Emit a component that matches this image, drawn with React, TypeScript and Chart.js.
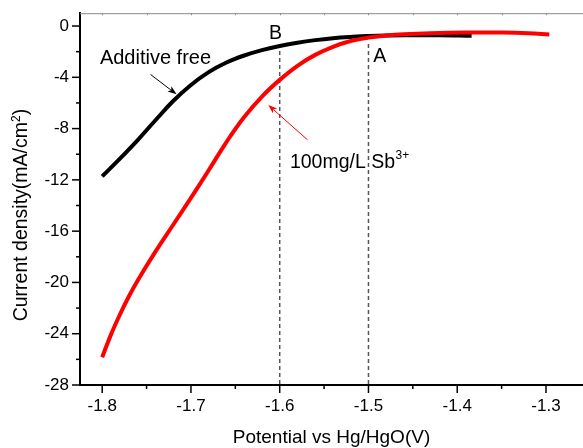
import React, { useEffect, useRef } from 'react';
import { Chart, registerables } from 'chart.js';

Chart.register(...registerables);

// ---- Data ----
const freePotential = [-1.8, -1.78, -1.76, -1.74, -1.72, -1.7, -1.68, -1.66, -1.64, -1.62, -1.6, -1.58, -1.56, -1.54, -1.52, -1.5, -1.46, -1.42, -1.3838];
const freeCurrent = [-11.73, -10.35, -8.9, -7.35, -5.85, -4.6, -3.6, -2.85, -2.3, -1.88, -1.56, -1.3, -1.1, -0.95, -0.85, -0.78, -0.72, -0.72, -0.76];

const sbPotential = [-1.8, -1.79, -1.78, -1.77, -1.76, -1.74, -1.72, -1.7, -1.68, -1.66, -1.64, -1.62, -1.6, -1.58, -1.56, -1.54, -1.52, -1.5, -1.48, -1.46, -1.43, -1.39, -1.35, -1.32, -1.2963];
const sbCurrent = [-25.83, -24.05, -22.5, -21.1, -19.85, -17.6, -15.5, -13.4, -11.25, -9.05, -7.1, -5.5, -4.2, -3.1, -2.25, -1.62, -1.17, -0.9, -0.74, -0.64, -0.56, -0.51, -0.51, -0.56, -0.66];

const xTicks = [-1.8, -1.7, -1.6, -1.5, -1.4, -1.3];
const xTickLabels = ['-1.8', '-1.7', '-1.6', '-1.5', '-1.4', '-1.3'];
const xMinorTicks = [-1.75, -1.65, -1.55, -1.45, -1.35];
const yTicks = [-28, -24, -20, -16, -12, -8, -4, 0];
const yTickLabels = ['-28', '-24', '-20', '-16', '-12', '-8', '-4', '0'];
const yMinorTicks = [-26, -22, -18, -14, -10, -6, -2];

const xMin = -1.825;
const xMax = -1.2583;
const yMin = -28;
const yMax = 1;

// reference (dashed) lines at B and A
const markerPotentials = [-1.6, -1.5];
const markerLabels = ['B', 'A'];
const markerTopCurrent = -1.4;

// annotation anchors in data units
const freeLabel = { text: 'Additive free', x: -1.8026, y: -3.0 };
const freeArrow = { x1: -1.7455, y1: -3.78, x2: -1.7162, y2: -5.33 };
const sbLabel = { text: '100mg/L Sb', sup: '3+', x: -1.5885, y: -11.11 };
const sbArrow = { x1: -1.5686, y1: -8.88, x2: -1.6129, y2: -6.16 };
const markerLabelPos = [
  { x: -1.6048, y: -1.0, align: 'center' as CanvasTextAlign },
  { x: -1.4946, y: -2.82, align: 'left' as CanvasTextAlign },
];

const FONT = '"Liberation Sans", Arial, sans-serif';

function zip(xs: number[], ys: number[]) {
  return xs.map((x, i) => ({ x, y: ys[i] }));
}

function arrow(ctx: CanvasRenderingContext2D, x1: number, y1: number, x2: number, y2: number, color: string) {
  const ang = Math.atan2(y2 - y1, x2 - x1);
  const len = 9;
  const hw = 3.2;
  ctx.save();
  ctx.strokeStyle = color;
  ctx.fillStyle = color;
  ctx.lineWidth = 1;
  ctx.beginPath();
  ctx.moveTo(x1, y1);
  ctx.lineTo(x2 - Math.cos(ang) * len * 0.8, y2 - Math.sin(ang) * len * 0.8);
  ctx.stroke();
  ctx.beginPath();
  ctx.moveTo(x2, y2);
  ctx.lineTo(x2 - Math.cos(ang) * len + Math.sin(ang) * hw, y2 - Math.sin(ang) * len - Math.cos(ang) * hw);
  ctx.lineTo(x2 - Math.cos(ang) * len * 0.75, y2 - Math.sin(ang) * len * 0.75);
  ctx.lineTo(x2 - Math.cos(ang) * len - Math.sin(ang) * hw, y2 - Math.sin(ang) * len + Math.cos(ang) * hw);
  ctx.closePath();
  ctx.fill();
  ctx.restore();
}

const decorPlugin = {
  id: 'decor',
  afterDraw(chart: any) {
    const ctx: CanvasRenderingContext2D = chart.ctx;
    const { left, right, top, bottom } = chart.chartArea;
    const xs = chart.scales.x;
    const ys = chart.scales.y;
    const px = (v: number) => xs.getPixelForValue(v);
    const py = (v: number) => ys.getPixelForValue(v);

    ctx.save();
    // top frame line
    ctx.strokeStyle = '#8a8a8a';
    ctx.lineWidth = 1;
    ctx.beginPath();
    ctx.moveTo(left, top + 0.5);
    ctx.lineTo(right, top + 0.5);
    ctx.stroke();
    [...xTicks, ...xMinorTicks].forEach((v) => {
      const x = Math.round(px(v)) + 0.5;
      ctx.beginPath();
      ctx.moveTo(x, top);
      ctx.lineTo(x, top + 2);
      ctx.stroke();
    });

    // tick marks (outward)
    ctx.strokeStyle = '#000';
    ctx.lineWidth = 1.5;
    const tick = (x1: number, y1: number, x2: number, y2: number) => {
      ctx.beginPath();
      ctx.moveTo(x1, y1);
      ctx.lineTo(x2, y2);
      ctx.stroke();
    };
    xTicks.forEach((v) => { const x = px(v); tick(x, bottom, x, bottom + 8); });
    xMinorTicks.forEach((v) => { const x = px(v); tick(x, bottom, x, bottom + 4); });
    yTicks.forEach((v) => { const y = py(v); tick(left, y, left - 8, y); });
    yMinorTicks.forEach((v) => { const y = py(v); tick(left, y, left - 4, y); });

    // annotation texts
    ctx.fillStyle = '#000';
    ctx.textBaseline = 'alphabetic';
    ctx.font = `20px ${FONT}`;
    ctx.textAlign = 'left';
    ctx.fillText(freeLabel.text, px(freeLabel.x), py(freeLabel.y));

    ctx.font = `19.5px ${FONT}`;
    markerLabels.forEach((t, i) => {
      ctx.textAlign = markerLabelPos[i].align;
      ctx.fillText(t, px(markerLabelPos[i].x), py(markerLabelPos[i].y));
    });

    ctx.textAlign = 'left';
    const sx = px(sbLabel.x);
    const sy = py(sbLabel.y);
    ctx.fillText(sbLabel.text, sx, sy);
    const w = ctx.measureText(sbLabel.text).width;
    ctx.font = `12px ${FONT}`;
    ctx.fillText(sbLabel.sup, sx + w + 0.5, sy - 9);

    // arrows
    arrow(ctx, px(freeArrow.x1), py(freeArrow.y1), px(freeArrow.x2), py(freeArrow.y2), '#000');
    arrow(ctx, px(sbArrow.x1), py(sbArrow.y1), px(sbArrow.x2), py(sbArrow.y2), '#ff0000');

    // y-axis title with superscript
    const parts: [string, number, number][] = [
      ['Current density(mA/cm', 19.5, 0],
      ['2', 12, 7.5],
      [')', 19.5, 0],
    ];
    const widths = parts.map(([t, s]) => { ctx.font = `${s}px ${FONT}`; return ctx.measureText(t).width; });
    const total = widths.reduce((a, b) => a + b, 0);
    const cy = (top + bottom) / 2 + 16;
    ctx.translate(27, cy + total / 2);
    ctx.rotate(-Math.PI / 2);
    let cx = 0;
    parts.forEach(([t, s, raise], i) => {
      ctx.font = `${s}px ${FONT}`;
      ctx.fillText(t, cx, -raise);
      cx += widths[i];
    });
    ctx.restore();
  },
};

export default function App() {
  const ref = useRef<HTMLCanvasElement>(null);

  useEffect(() => {
    document.body.style.margin = '0';
    const canvas = ref.current;
    if (!canvas) return;

    const markerSets = markerPotentials.map((p) => ({
      data: [{ x: p, y: markerTopCurrent }, { x: p, y: yMin }],
      borderColor: '#555555',
      borderWidth: 1.5,
      borderDash: [4, 3],
      pointRadius: 0,
      order: 5,
    }));

    const chart = new Chart(canvas, {
      type: 'line',
      data: {
        datasets: [
          ...markerSets,
          {
            label: 'Additive free',
            data: zip(freePotential, freeCurrent),
            borderColor: '#000000',
            borderWidth: 4,
            pointRadius: 0,
            tension: 0.4,
            order: 2,
          },
          {
            label: '100mg/L Sb3+',
            data: zip(sbPotential, sbCurrent),
            borderColor: '#ff0000',
            borderWidth: 4,
            pointRadius: 0,
            tension: 0.4,
            order: 1,
          },
        ] as any,
      },
      options: {
        animation: false,
        responsive: false,
        devicePixelRatio: 1,
        layout: { padding: { top: 12, left: 0, right: 0, bottom: 0 } },
        plugins: { legend: { display: false }, tooltip: { enabled: false } },
        scales: {
          x: {
            type: 'linear',
            min: xMin,
            max: xMax,
            afterBuildTicks: (s: any) => { s.ticks = xTicks.map((v) => ({ value: v })); },
            afterFit: (s: any) => { s.height = 63; },
            grid: { drawOnChartArea: false, drawTicks: true, tickLength: 8, tickColor: 'rgba(0,0,0,0)' },
            border: { display: true, color: '#000', width: 2 },
            ticks: {
              padding: 3,
              color: '#000',
              font: { family: FONT, size: 17 },
              maxRotation: 0,
              autoSkip: false,
              callback: (_v: any, i: number) => xTickLabels[i],
            },
            title: {
              display: true,
              text: 'Potential vs Hg/HgO(V)',
              color: '#000',
              font: { family: FONT, size: 19, lineHeight: 1 },
              padding: { top: 0, bottom: 1 },
            },
          },
          y: {
            type: 'linear',
            min: yMin,
            max: yMax,
            afterBuildTicks: (s: any) => { s.ticks = yTicks.map((v) => ({ value: v })); },
            afterFit: (s: any) => { s.width = 80; },
            grid: { drawOnChartArea: false, drawTicks: true, tickLength: 8, tickColor: 'rgba(0,0,0,0)' },
            border: { display: true, color: '#000', width: 2 },
            ticks: {
              padding: 3,
              color: '#000',
              font: { family: FONT, size: 17 },
              autoSkip: false,
              callback: (_v: any, i: number) => yTickLabels[i],
            },
          },
        },
      } as any,
      plugins: [decorPlugin],
    });

    return () => chart.destroy();
  }, []);

  return <canvas ref={ref} width={583} height={448} style={{ display: 'block', width: 583, height: 448 }} />;
}
